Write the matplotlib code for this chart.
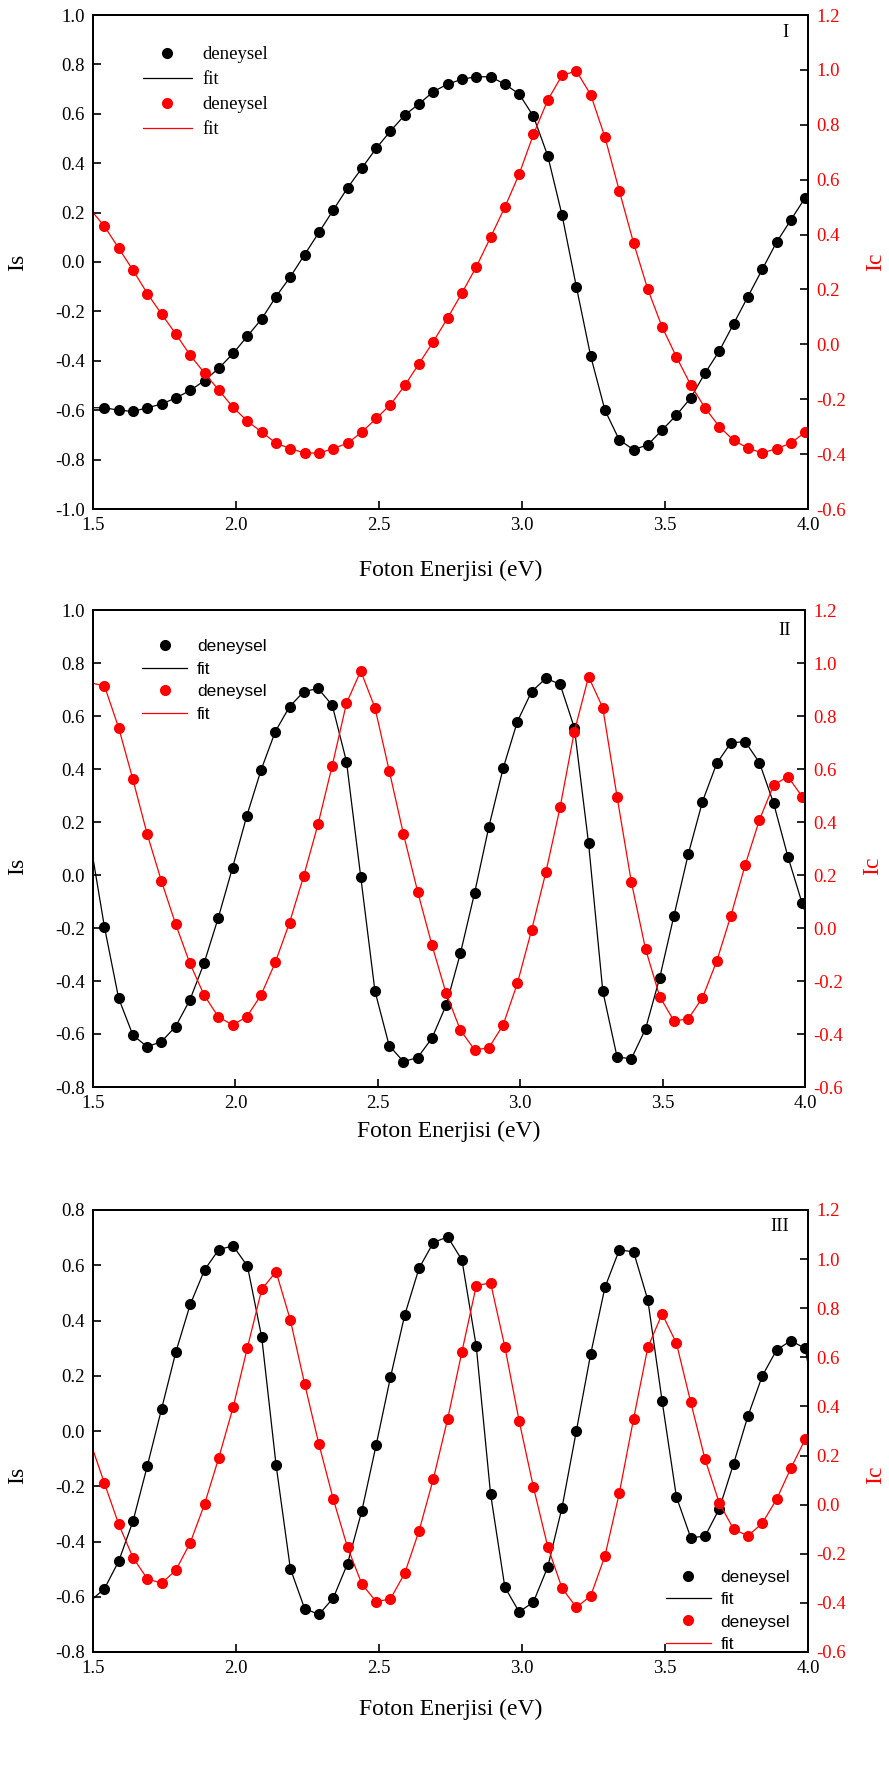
import numpy as np
import matplotlib
matplotlib.use("Agg")
import matplotlib.pyplot as plt

plt.rcParams['font.family'] = ['Liberation Serif', 'DejaVu Serif']

# photon energies of the measured points (eV)
energy = [1.54, 1.59, 1.64, 1.69, 1.74, 1.79, 1.84, 1.89, 1.94, 1.99,
          2.04, 2.09, 2.14, 2.19, 2.24, 2.29, 2.34, 2.39, 2.44, 2.49,
          2.54, 2.59, 2.64, 2.69, 2.74, 2.79, 2.84, 2.89, 2.94, 2.99,
          3.04, 3.09, 3.14, 3.19, 3.24, 3.29, 3.34, 3.39, 3.44, 3.49,
          3.54, 3.59, 3.64, 3.69, 3.74, 3.79, 3.84, 3.89, 3.94, 3.99]

# panel I
is_1 = [-0.59, -0.60, -0.605, -0.59, -0.575, -0.55, -0.52, -0.48, -0.43, -0.37,
        -0.30, -0.23, -0.14, -0.06, 0.03, 0.12, 0.21, 0.30, 0.38, 0.46,
        0.53, 0.595, 0.64, 0.69, 0.72, 0.74, 0.75, 0.75, 0.72, 0.68,
        0.59, 0.43, 0.19, -0.10, -0.38, -0.60, -0.72, -0.76, -0.74, -0.68,
        -0.62, -0.55, -0.45, -0.36, -0.25, -0.14, -0.03, 0.08, 0.17, 0.26]
ic_1 = [0.43, 0.35, 0.27, 0.185, 0.11, 0.037, -0.04, -0.105, -0.167, -0.23,
        -0.28, -0.32, -0.36, -0.38, -0.396, -0.396, -0.38, -0.36, -0.32, -0.27,
        -0.22, -0.15, -0.07, 0.01, 0.096, 0.187, 0.282, 0.39, 0.50, 0.62,
        0.765, 0.89, 0.98, 0.996, 0.91, 0.755, 0.56, 0.37, 0.20, 0.063,
        -0.046, -0.148, -0.232, -0.30, -0.35, -0.378, -0.396, -0.38, -0.36, -0.32]
# fit value at 1.5 eV and at 4.0 eV
is_1_fit_ends = [-0.59, 0.27]
ic_1_fit_ends = [0.48, -0.31]

# panel II
is_2 = [-0.195, -0.465, -0.604, -0.648, -0.629, -0.572, -0.472, -0.333, -0.161, 0.028,
        0.223, 0.396, 0.541, 0.635, 0.692, 0.704, 0.641, 0.428, -0.006, -0.438,
        -0.644, -0.704, -0.689, -0.616, -0.491, -0.296, -0.067, 0.182, 0.402, 0.579,
        0.692, 0.742, 0.72, 0.556, 0.12, -0.438, -0.686, -0.694, -0.581, -0.387,
        -0.153, 0.078, 0.277, 0.421, 0.499, 0.503, 0.424, 0.270, 0.069, -0.107]
ic_2 = [0.914, 0.756, 0.561, 0.355, 0.178, 0.015, -0.133, -0.253, -0.335, -0.366,
        -0.335, -0.253, -0.130, 0.020, 0.197, 0.391, 0.613, 0.848, 0.970, 0.831,
        0.594, 0.355, 0.137, -0.064, -0.247, -0.385, -0.460, -0.452, -0.366, -0.209,
        -0.008, 0.210, 0.455, 0.741, 0.948, 0.831, 0.496, 0.175, -0.079, -0.259,
        -0.351, -0.343, -0.263, -0.125, 0.047, 0.238, 0.408, 0.540, 0.571, 0.496]
is_2_fit_ends = [0.063, -0.138]
ic_2_fit_ends = [0.923, 0.49]

# panel III
is_3 = [-0.571, -0.471, -0.326, -0.126, 0.081, 0.287, 0.458, 0.583, 0.657, 0.670,
        0.597, 0.339, -0.122, -0.498, -0.643, -0.664, -0.605, -0.48, -0.289, -0.051,
        0.194, 0.42, 0.589, 0.682, 0.703, 0.619, 0.307, -0.227, -0.565, -0.655,
        -0.619, -0.492, -0.277, 0.0, 0.278, 0.520, 0.655, 0.649, 0.474, 0.108,
        -0.239, -0.386, -0.381, -0.281, -0.118, 0.054, 0.199, 0.293, 0.327, 0.299]
ic_3 = [0.087, -0.080, -0.216, -0.302, -0.320, -0.266, -0.155, 0.002, 0.192, 0.397,
        0.640, 0.877, 0.949, 0.752, 0.492, 0.246, 0.023, -0.174, -0.323, -0.395,
        -0.384, -0.279, -0.107, 0.105, 0.349, 0.623, 0.891, 0.904, 0.643, 0.341,
        0.071, -0.171, -0.340, -0.418, -0.372, -0.209, 0.046, 0.349, 0.641, 0.777,
        0.657, 0.417, 0.185, 0.006, -0.100, -0.127, -0.076, 0.022, 0.148, 0.266]
is_3_fit_ends = [-0.607, 0.244]
ic_3_fit_ends = [0.223, 0.27]

x_ticks = [1.5, 2.0, 2.5, 3.0, 3.5, 4.0]
ic_ticks = [-0.6, -0.4, -0.2, 0.0, 0.2, 0.4, 0.6, 0.8, 1.0, 1.2]
is_ticks_1 = [-1.0, -0.8, -0.6, -0.4, -0.2, 0.0, 0.2, 0.4, 0.6, 0.8, 1.0]
is_ticks_2 = [-0.8, -0.6, -0.4, -0.2, 0.0, 0.2, 0.4, 0.6, 0.8, 1.0]
is_ticks_3 = [-0.8, -0.6, -0.4, -0.2, 0.0, 0.2, 0.4, 0.6, 0.8]

W, H = 889, 1782
fig = plt.figure(figsize=(W / 100, H / 100), dpi=100)


def px_rect(left, right, top, bottom):
    return [left / W, 1 - bottom / H, (right - left) / W, (bottom - top) / H]


def draw_panel(rect, is_vals, ic_vals, is_ends, ic_ends, is_ticks, tag, tag_pos,
               legend_kw, legend_prop, is_label_y, xlabel_y):
    ax = fig.add_axes(rect)
    ax2 = ax.twinx()

    fit_x = [1.5] + energy + [4.0]
    fit_b, = ax.plot(fit_x, [is_ends[0]] + is_vals + [is_ends[1]], color='black', lw=0.9)
    pts_b, = ax.plot(energy, is_vals, 'o', color='black', ms=8, mew=0, linestyle='None')
    fit_r, = ax2.plot(fit_x, [ic_ends[0]] + ic_vals + [ic_ends[1]], color='red', lw=0.9)
    pts_r, = ax2.plot(energy, ic_vals, 'o', color='red', ms=8, mew=0, linestyle='None')

    ax.set_xlim(1.5, 4.0)
    ax.set_ylim(is_ticks[0], is_ticks[-1])
    ax2.set_ylim(ic_ticks[0], ic_ticks[-1])
    ax.set_xticks(x_ticks)
    ax.set_xticklabels([f"{t:.1f}" for t in x_ticks])
    ax.set_yticks(is_ticks)
    ax.set_yticklabels([f"{t:.1f}" for t in is_ticks])
    ax2.set_yticks(ic_ticks)
    ax2.set_yticklabels([f"{t:.1f}" for t in ic_ticks])

    for a in (ax, ax2):
        for s in a.spines.values():
            s.set_linewidth(1.4)
    ax.tick_params(axis='both', direction='in', length=6, width=1.2, labelsize=13.5, pad=6)
    ax.tick_params(top=False, right=False)
    ax2.tick_params(axis='y', direction='in', length=6, width=1.2, labelsize=13.5, pad=6,
                    labelcolor='red')

    ax.set_xlabel("Foton Enerjisi (eV)", fontsize=17)
    ax.xaxis.set_label_coords(0.5, xlabel_y)
    ax.set_ylabel("Is", fontsize=17)
    ax.yaxis.set_label_coords(-65 / 715, is_label_y)
    ax2.set_ylabel("Ic", fontsize=17, color='red')
    ax2.yaxis.set_label_coords(772 / 715, is_label_y)

    ax2.text(tag_pos[0], tag_pos[1], tag, transform=ax.transAxes, ha='center',
             va='center', fontsize=13.5)

    ax2.legend([pts_b, fit_b, pts_r, fit_r], ['deneysel', 'fit', 'deneysel', 'fit'],
               frameon=False, numpoints=1, handlelength=2.6, handletextpad=0.55,
               labelspacing=0.42, borderpad=0, borderaxespad=0,
               prop=legend_prop, **legend_kw)
    return ax, ax2


draw_panel(px_rect(93, 808, 15, 509), is_1, ic_1, is_1_fit_ends, ic_1_fit_ends,
           is_ticks_1, 'I', (0.968, 0.964),
           dict(loc='upper left', bbox_to_anchor=(0.070, 0.937)),
           {'family': 'Liberation Serif', 'size': 13.5},
           0.5, -51 / 494)

draw_panel(px_rect(93, 805, 610, 1087), is_2, ic_2, is_2_fit_ends, ic_2_fit_ends,
           is_ticks_2, 'II', (0.972, 0.956),
           dict(loc='upper left', bbox_to_anchor=(0.069, 0.939)),
           {'family': 'Liberation Sans', 'size': 12.5},
           (1087 - 866) / 477, -34 / 477)

draw_panel(px_rect(93, 808, 1210, 1652), is_3, ic_3, is_3_fit_ends, ic_3_fit_ends,
           is_ticks_3, 'III', (0.961, 0.962),
           dict(loc='lower right', bbox_to_anchor=(0.975, 0.0)),
           {'family': 'Liberation Sans', 'size': 12.5},
           (1652 - 1475) / 442, -47 / 442)

plt.savefig("out.png", dpi=100)
plt.close()
print("Plot saved to out.png")
